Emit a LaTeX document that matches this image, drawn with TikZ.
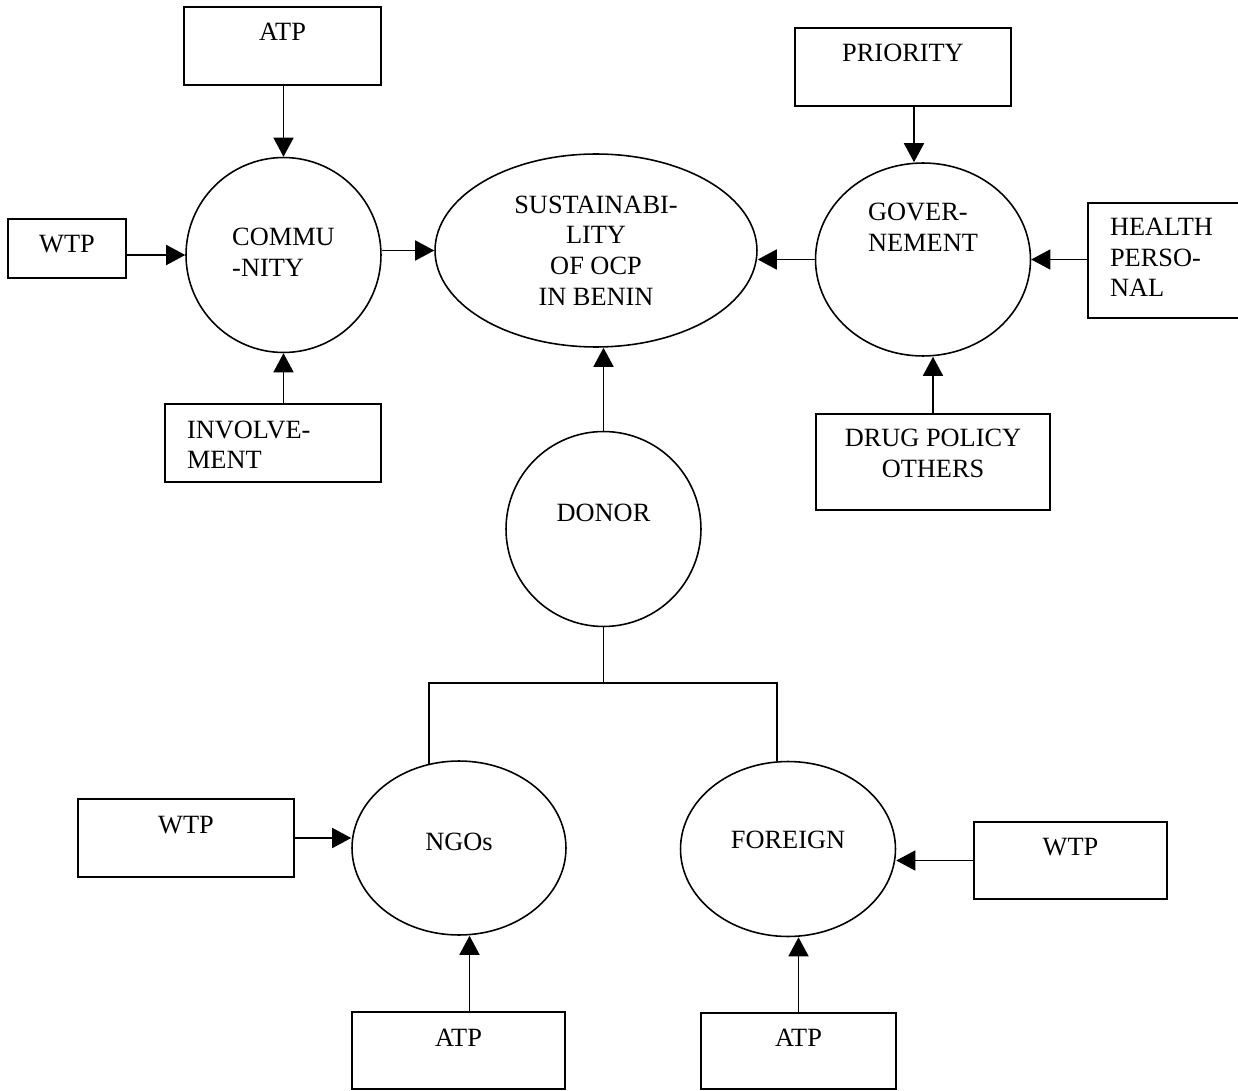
\documentclass[tikz,border=0pt]{standalone}
\usepackage{fontspec}
\setmainfont{Liberation Serif}
\usetikzlibrary{arrows.meta,shapes.geometric}

\begin{document}
\begin{tikzpicture}[x=0.02cm,y=-0.02cm,
   every node/.style={font=\fontsize{15}{17.4}\selectfont},
   box/.style={draw,rectangle,line width=0.9pt,inner sep=0pt,align=center,text height=0.68cm},
   circ/.style={draw,ellipse,line width=0.9pt,inner sep=0pt,align=center},
   arr/.style={line width=0.9pt,-{Triangle[length=0.38cm,width=0.4cm]}},
   link/.style={line width=0.9pt}]
\useasboundingbox (0,0) rectangle (1238,1091);

% community side
\node [box,minimum width=3.94cm,text depth=0.88cm] (atpC) at (282.5,46) {ATP};
\node [box,minimum width=2.36cm,text depth=0.50cm] (wtpC) at (67,248.5) {WTP};
\node [box,minimum width=4.32cm,text depth=0.87cm,text width=3.44cm,inner xsep=0.44cm,align=left] (inv) at (273,443) {INVOLVE-\\MENT};
\node [circ,minimum size=3.9cm,text height=0.94cm,text depth=0.08cm,align=left] (comm) at (283.5,255) {COMMU\\-NITY};

\node [circ,minimum width=6.44cm,minimum height=3.86cm] (sust) at (596,250.5) {SUSTAINABI-\\LITY\\OF OCP\\IN BENIN};

% government side
\node [circ,minimum width=4.3cm,minimum height=3.86cm,text height=0.94cm,text depth=1.26cm,align=left] (gov) at (923,259.5) {GOVER-\\NEMENT};
\node [box,minimum width=4.32cm,text depth=0.89cm] (prio) at (903,67) {PRIORITY};
\node [box,minimum width=3.24cm,text height=0.65cm,text depth=1.65cm,text width=2.36cm,inner xsep=0.44cm,align=left] (health) at (1169,260.5) {HEALTH\\PERSO-\\NAL};
\node [box,minimum width=4.68cm,text height=1.27cm,text depth=0.65cm] (drug) at (933,462) {DRUG POLICY\\OTHERS};

% donor side
\node [circ,minimum size=3.9cm,text height=0.34cm,text depth=0.64cm] (donor) at (603.5,529) {DONOR};
\node [circ,minimum width=4.28cm,minimum height=3.48cm,text height=0.34cm,text depth=0.24cm] (ngos) at (459,848) {NGOs};
\node [circ,minimum width=4.3cm,minimum height=3.5cm,text height=0.34cm,text depth=0.36cm] (foreign) at (788,849) {FOREIGN};
\node [box,minimum width=4.32cm,text depth=0.87cm] (wtpN) at (186,838) {WTP};
\node [box,minimum width=3.86cm,text depth=0.87cm] (wtpF) at (1070.5,860.5) {WTP};
\node [box,minimum width=4.26cm,text depth=0.85cm] (atpN) at (458.5,1050.5) {ATP};
\node [box,minimum width=3.9cm,text depth=0.85cm] (atpF) at (798.5,1051) {ATP};

\coordinate (split) at (603.5,683);
\coordinate (lft) at (429,683);
\coordinate (rgt) at (777,683);
\coordinate (prioOut) at ([xshift=0.22cm]prio.south);
\coordinate (atpNOut) at ([xshift=0.22cm]atpN.north);

\draw [arr] (comm.north |- atpC.south) -- (comm.north);
\draw [arr] (wtpC.east |- comm.west) -- (comm.west);
\draw [arr] (comm.south |- inv.north) -- (comm.south);
\draw [arr] (comm.east |- sust.west) -- (sust.west);

\draw [arr] (gov.west) -- (gov.west -| sust.east);
\draw [arr] (prioOut) -- (prioOut |- gov.north);
\draw [arr] (health.west |- gov.east) -- (gov.east);
\draw [arr] (drug.north) -- (drug.north |- gov.south);

\draw [arr] (donor.north) -- (donor.north |- sust.south);
\draw [link] (donor.south) -- (split);
\draw [link] (lft |- ngos.110) -- (lft) -- (rgt) -- (rgt |- foreign.north);
\draw [arr] (wtpN.east) -- (wtpN.east -| ngos.west);
\draw [arr] (wtpF.west) -- (wtpF.west -| foreign.east);
\draw [arr] (atpNOut) -- (atpNOut |- ngos.south);
\draw [arr] (atpF.north) -- (atpF.north |- foreign.south);

\end{tikzpicture}
\end{document}
